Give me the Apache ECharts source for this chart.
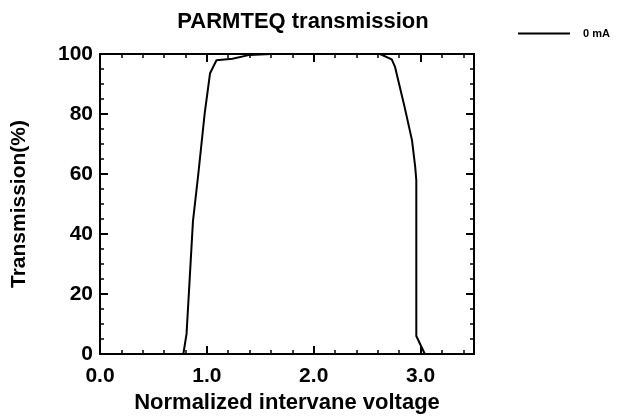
<!DOCTYPE html>
<html>
<head>
<meta charset="utf-8">
<script src="https://cdn.jsdelivr.net/npm/echarts@6/dist/echarts.min.js"></script>
<style>html,body{margin:0;padding:0;background:#fff;}#c{width:618px;height:420px;}</style>
</head>
<body>
<div id="c"></div>
<script>
var title = 'PARMTEQ transmission';
var seriesName = '0 mA';
var voltage = [0, 0.78, 0.81, 0.87, 0.92, 0.98, 1.03, 1.09, 1.24, 1.40, 1.60, 2.00, 2.62, 2.73, 2.76, 2.85, 2.92, 2.95, 2.96, 2.96, 3.04];
var transmission = [0, 0, 6.7, 44.3, 60, 80.3, 93.6, 97.9, 98.4, 99.7, 100, 100, 100, 98.2, 95.8, 82.4, 71.2, 62.3, 57.9, 6.0, 0];
var xTicks = [0, 1, 2, 3];
var yTicks = [0, 20, 40, 60, 80, 100];

var data = voltage.map(function (v, i) { return [v, transmission[i]]; });
var font = '"Liberation Sans", Arial, sans-serif';
var black = '#000';
function axisCommon(showLabel, isX) {
  return {
    axisLine: { show: true, onZero: false, lineStyle: { color: black, width: 2 } },
    axisTick: { show: true, inside: true, length: 8, lineStyle: { color: black, width: 2 } },
    minorTick: { show: true, splitNumber: isX ? 5 : 4, length: 4, lineStyle: { color: black, width: 1.5 } },
    splitLine: { show: false },
    axisLabel: { show: showLabel }
  };
}
var xBottom = Object.assign(axisCommon(true, true), {
  type: 'value', position: 'bottom', min: 0, max: 3.5, interval: 1,
  name: 'Normalized intervane voltage', nameLocation: 'middle', nameGap: 36,
  nameTextStyle: { fontFamily: font, fontWeight: 'bold', fontSize: 22, color: black },
  axisLabel: { show: true, margin: 12, showMaxLabel: false, fontFamily: font, fontWeight: 'bold', fontSize: 21, color: black,
    formatter: function (v) { return xTicks.indexOf(v) >= 0 ? v.toFixed(1) : ''; } }
});
var xTop = Object.assign(axisCommon(false, true), { type: 'value', position: 'top', min: 0, max: 3.5, interval: 1 });
var yLeft = Object.assign(axisCommon(true, false), {
  type: 'value', position: 'left', min: 0, max: 100, interval: 20,
  name: 'Transmission(%)', nameLocation: 'middle', nameGap: 70, nameRotate: 90,
  nameTextStyle: { fontFamily: font, fontWeight: 'bold', fontSize: 21, color: black },
  axisLabel: { show: true, margin: 7, fontFamily: font, fontWeight: 'bold', fontSize: 21, color: black,
    formatter: function (v) { return yTicks.indexOf(v) >= 0 ? String(v) : ''; } }
});
var yRight = Object.assign(axisCommon(false, false), { type: 'value', position: 'right', min: 0, max: 100, interval: 20 });

var chart = echarts.init(document.getElementById('c'), null, { renderer: 'canvas' });
chart.setOption({
  animation: false,
  backgroundColor: '#fff',
  title: { text: title, left: 298, textAlign: 'center', top: 6,
    textStyle: { fontFamily: font, fontWeight: 'bold', fontSize: 22, color: black } },
  legend: { show: true, left: 513, top: 23, itemWidth: 52, itemHeight: 2, icon: 'rect',
    data: [{ name: seriesName, icon: 'rect' }],
    itemStyle: { color: black },
    textStyle: { fontFamily: font, fontWeight: 'bold', fontSize: 11, color: black, padding: [0, 0, 0, 8] } },
  grid: { left: 100, right: 144, top: 54, bottom: 66 },
  xAxis: [xBottom, xTop],
  yAxis: [yLeft, yRight],
  series: [{
    name: seriesName, type: 'line', data: data, symbol: 'none',
    xAxisIndex: 0, yAxisIndex: 0,
    lineStyle: { color: black, width: 2 }, itemStyle: { color: black }
  }]
});
</script>
</body>
</html>
